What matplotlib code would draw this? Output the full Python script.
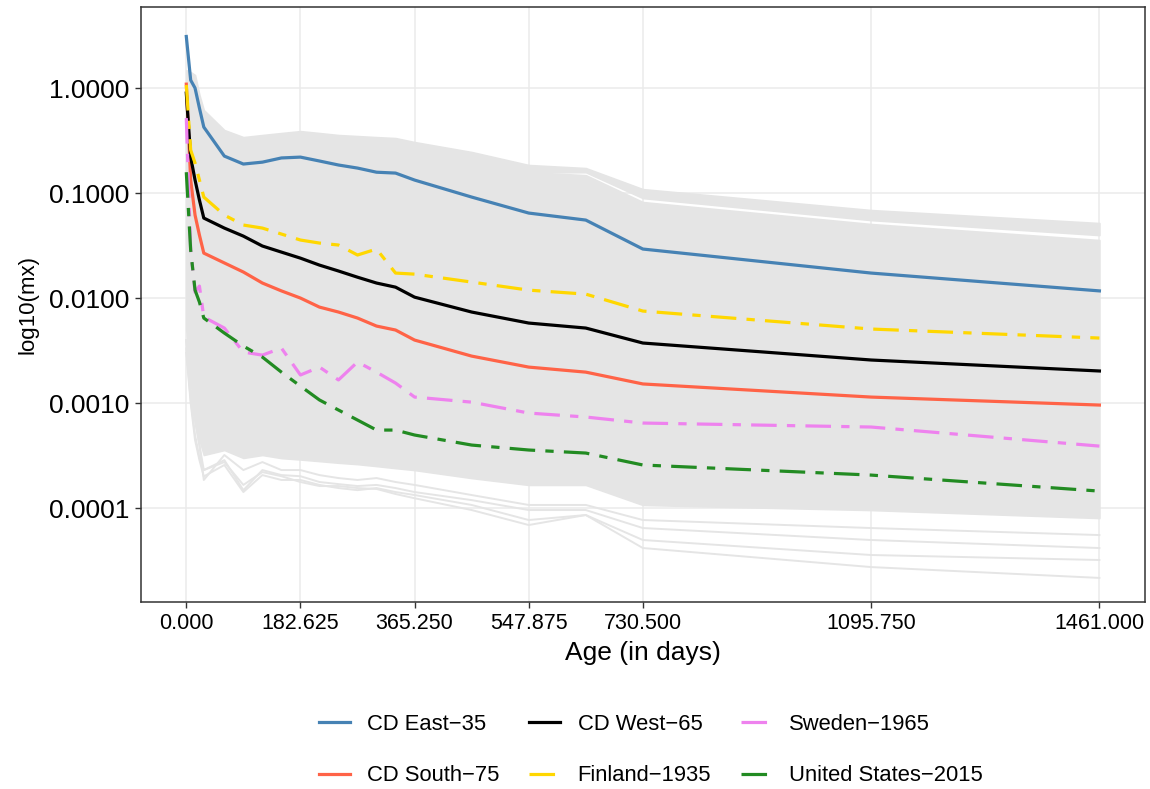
import numpy as np
import matplotlib
matplotlib.use("Agg")
import matplotlib.pyplot as plt
from matplotlib.ticker import FixedLocator, NullLocator

plt.rcParams['font.family'] = ['Liberation Sans', 'DejaVu Sans']

# ages (days) where the rates are given
ages = [0, 7, 14, 21, 28, 60.875, 91.3125, 121.75, 152.1875, 182.625, 213.0625, 243.5,
        273.9375, 304.375, 334.8125, 365.25, 456.5625, 547.875, 639.1875, 730.5, 1095.75, 1461]

cd_east = [3.10, 1.19, 1.00, 0.645, 0.425, 0.225, 0.189, 0.197, 0.216, 0.220, 0.202, 0.185,
           0.173, 0.158, 0.155, 0.133, 0.0916, 0.0645, 0.0553, 0.0293, 0.0173, 0.0117]
cd_south = [1.09, 0.133, 0.0617, 0.0398, 0.0268, 0.0216, 0.0177, 0.0139, 0.0117, 0.0100, 0.0082, 0.00736,
            0.00645, 0.00541, 0.00496, 0.00398, 0.00280, 0.00220, 0.00197, 0.00152, 0.00114, 0.000957]
cd_west = [0.896, 0.220, 0.133, 0.0858, 0.0578, 0.0464, 0.0389, 0.0313, 0.0274, 0.0240, 0.0206, 0.0181,
           0.0158, 0.0139, 0.0127, 0.0102, 0.00736, 0.00578, 0.00518, 0.00373, 0.00257, 0.00202]
finland = [1.07, 0.257, 0.193, 0.133, 0.0916, 0.0617, 0.0496, 0.0464, 0.0407, 0.0357, 0.0334, 0.0320,
           0.0257, 0.0293, 0.0173, 0.0169, 0.0142, 0.0119, 0.0109, 0.00752, 0.00507, 0.00416]
sweden = [0.518, 0.0286, 0.0114, 0.0130, 0.00659, 0.00518, 0.00306, 0.00286, 0.00334, 0.00185, 0.00220, 0.00166,
          0.00246, 0.00197, 0.00155, 0.00114, 0.00102, 0.000803, 0.000736, 0.000645, 0.000591, 0.000389]
usa = [0.158, 0.0286, 0.0119, 0.00916, 0.00645, 0.00464, 0.00349, 0.00274, 0.00197, 0.00145, 0.00107, 0.000858,
       0.000689, 0.000553, 0.000553, 0.000496, 0.000398, 0.000357, 0.000334, 0.000257, 0.000206, 0.000145]

# grey cloud of all other life tables: upper group, main band, and separate low lines
grey_hi_top = [1.48, 1.42, 1.33, 0.858, 0.617, 0.398, 0.341, 0.357, 0.373, 0.389, 0.373, 0.357,
               0.349, 0.341, 0.334, 0.306, 0.246, 0.185, 0.173, 0.109, 0.0689, 0.0518]
grey_hi_bot = [1.19, 1.14, 1.07, 0.689, 0.496, 0.320, 0.274, 0.286, 0.299, 0.313, 0.299, 0.286,
               0.280, 0.274, 0.268, 0.246, 0.197, 0.158, 0.158, 0.0896, 0.0553, 0.0398]
band_top = [1.19, 1.14, 1.07, 0.689, 0.496, 0.320, 0.274, 0.286, 0.299, 0.313, 0.299, 0.286,
            0.280, 0.274, 0.268, 0.246, 0.197, 0.158, 0.148, 0.0821, 0.0507, 0.0357]
band_bot = [0.00496, 0.00166, 0.000689, 0.000444, 0.000320, 0.000357, 0.000300, 0.000320, 0.000299, 0.000290,
            0.000280, 0.000270, 0.000262, 0.000251, 0.000240, 0.000230, 0.000193, 0.000166, 0.000166,
            0.000107, 0.0000957, 0.0000803]
low1 = [0.00398, 0.00133, 0.000689, 0.000398, 0.000185, 0.000320, 0.000230, 0.000274, 0.000230, 0.000230,
        0.000206, 0.000193, 0.000185, 0.000193, 0.000177, 0.000166, 0.000133, 0.000107, 0.000107,
        0.0000769, 0.0000645, 0.0000553]
low2 = [0.00330, 0.00107, 0.000500, 0.000300, 0.000230, 0.000286, 0.000148, 0.000230, 0.000206, 0.000201,
        0.000177, 0.000169, 0.000162, 0.000166, 0.000155, 0.000142, 0.000119, 0.0000957, 0.0000957,
        0.0000645, 0.0000496, 0.0000416]
low3 = [0.00300, 0.00100, 0.000444, 0.000286, 0.000200, 0.000257, 0.000142, 0.000206, 0.000185, 0.000185,
        0.000166, 0.000155, 0.000148, 0.000155, 0.000142, 0.000133, 0.000107, 0.0000769, 0.0000858,
        0.0000496, 0.0000357, 0.0000320]
low4 = [0.00398, 0.00133, 0.000689, 0.000398, 0.000230, 0.000274, 0.000166, 0.000220, 0.000201, 0.000177,
        0.000162, 0.000162, 0.000155, 0.000152, 0.000136, 0.000124, 0.0000957, 0.0000689, 0.0000858,
        0.0000416, 0.0000274, 0.0000216]

x_ticks = [0, 182.625, 365.25, 547.875, 730.5, 1095.75, 1461]
x_labels = ['0.000', '182.625', '365.250', '547.875', '730.500', '1095.750', '1461.000']
y_ticks = [0.0001, 0.001, 0.01, 0.1, 1.0]
y_labels = ['0.0001', '0.0010', '0.0100', '0.1000', '1.0000']

series = [
    ('CD East\u221235', cd_east, 'steelblue', '-'),
    ('CD South\u221275', cd_south, 'tomato', '-'),
    ('CD West\u221265', cd_west, 'black', '-'),
    ('Finland\u22121935', finland, 'gold', 'twodash'),
    ('Sweden\u22121965', sweden, 'violet', 'twodash'),
    ('United States\u22122015', usa, 'forestgreen', 'twodash'),
]

fig = plt.figure(figsize=(11.5, 7.89), dpi=100)
ax = fig.add_axes([0.1223, 0.2370, 0.8734, 0.7537])

grey = '#e5e5e5'
ax.fill_between(ages, grey_hi_bot, grey_hi_top, color=grey, lw=1.2, zorder=1)
ax.fill_between(ages, band_bot, band_top, color=grey, lw=1.2, zorder=1)
for low in [low1, low2, low3, low4]:
    ax.plot(ages, low, color=grey, lw=1.4, zorder=1)

for name, vals, col, ls in series:
    if ls == 'twodash':
        ax.plot(ages, vals, color=col, lw=2.3, label=name, zorder=3,
                dashes=(8, 3.2, 2.6, 3.2), solid_capstyle='butt', dash_capstyle='butt')
    else:
        ax.plot(ages, vals, color=col, lw=2.3, label=name, zorder=3)

ax.set_yscale('log')
ax.set_xlim(-73.05, 1534.05)
ax.set_ylim(10 ** -4.895, 10 ** 0.769)
ax.yaxis.set_major_locator(FixedLocator(y_ticks))
ax.yaxis.set_minor_locator(NullLocator())
ax.set_yticks(y_ticks, y_labels)
ax.set_xticks(x_ticks, x_labels)

ax.grid(True, color='#ebebeb', lw=1.1)
ax.set_axisbelow(True)
for s in ax.spines.values():
    s.set_color('#333333')
    s.set_linewidth(1.1)
ax.tick_params(axis='both', color='#333333', length=4, width=1.0, colors='black')
ax.tick_params(axis='y', labelsize=19, pad=4)
ax.tick_params(axis='x', labelsize=15.5, pad=4)

ax.set_xlabel('Age (in days)', fontsize=19, labelpad=5)
ax.set_ylabel('log10(mx)', fontsize=16, labelpad=8)

fig.legend(loc='center', bbox_to_anchor=(651 / 1150, 1 - 750 / 789), ncol=3, frameon=False,
           fontsize=15.8, handlelength=1.4, handletextpad=0.8, columnspacing=1.35, labelspacing=1.4)

fig.savefig('out.png', dpi=100)
